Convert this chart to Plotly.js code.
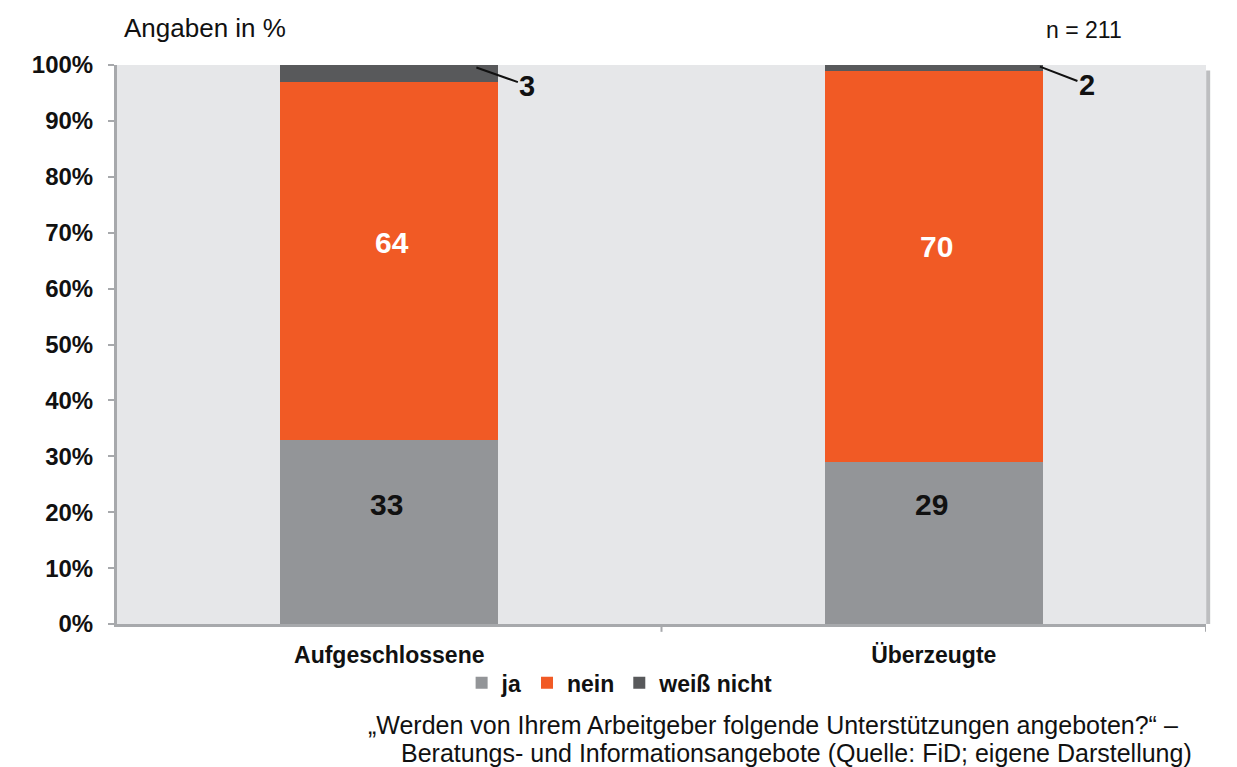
<!DOCTYPE html>
<html>
<head>
<meta charset="utf-8">
<script src="https://cdn.plot.ly/plotly-3.0.1.min.js"></script>
<style>
html,body{margin:0;padding:0;background:#fff;}
#chart{width:1237px;height:767px;}
</style>
</head>
<body>
<div id="chart"></div>
<script>
const categories = ["Aufgeschlossene", "Überzeugte"];
const seriesNames = ["ja", "nein", "weiß nicht"];
const ja = [33, 29];
const nein = [64, 70];
const weissNicht = [3, 2];
const yTickVals = [0, 10, 20, 30, 40, 50, 60, 70, 80, 90, 100];
const yTickText = yTickVals.map(v => v + "%");

const colors = {ja: "#939598", nein: "#F15A25", weiss: "#58595B"};
const FONT = "Liberation Sans, Arial, sans-serif";
const xIdx = categories.map((c, i) => i);

const traces = [
  {type: "bar", name: seriesNames[0], x: xIdx, y: ja, marker: {color: colors.ja},
   width: 0.4, hoverinfo: "skip", textposition: "none"},
  {type: "bar", name: seriesNames[1], x: xIdx, y: nein, marker: {color: colors.nein},
   width: 0.4, hoverinfo: "skip", textposition: "none"},
  {type: "bar", name: seriesNames[2], x: xIdx, y: weissNicht, marker: {color: colors.weiss},
   width: 0.4, hoverinfo: "skip", textposition: "none"}
];

const annotations = [
  {xref: "paper", yref: "paper", x: 0.0046, y: 1.066, xanchor: "left", yanchor: "middle",
   text: "Angaben in %", showarrow: false, font: {family: FONT, size: 26, color: "#111"}},
  {xref: "paper", yref: "paper", x: 0.925, y: 1.063, xanchor: "right", yanchor: "middle",
   text: "n = 211", showarrow: false, font: {family: FONT, size: 23, color: "#111"}}
];
// in-bar value labels (placed in the lower-middle part of each segment, as in the original)
xIdx.forEach((i) => {
  annotations.push({
    xref: "x", yref: "y", x: i - 0.005, y: Math.min(...ja) * 0.74,
    text: "<b>" + ja[i] + "</b>", showarrow: false, yanchor: "middle",
    font: {family: FONT, size: 30, color: "#111"}
  });
  annotations.push({
    xref: "x", yref: "y", x: i + 0.005, y: ja[i] + nein[i] * 0.55,
    text: "<b>" + nein[i] + "</b>", showarrow: false, yanchor: "middle",
    font: {family: FONT, size: 30, color: "#ffffff"}
  });
});
// leader-line labels for the small top segments
const leaderOffsets = [0.16, 0.195];
const leaderAx = [51, 47];
xIdx.forEach((i) => {
  const top = Math.min(ja[i] + nein[i] + weissNicht[i], 100);
  annotations.push({
    xref: "x", yref: "y",
    x: i + leaderOffsets[i], y: top - weissNicht[i] * 0.15,
    text: "<b>" + weissNicht[i] + "</b>",
    showarrow: true, arrowhead: 0, arrowwidth: 2, arrowcolor: "#111",
    ax: leaderAx[i], ay: 18, standoff: 0,
    font: {family: FONT, size: 29, color: "#111"}
  });
});
annotations.push(
  {xref: "paper", yref: "paper", x: 0.976, y: -0.181, xanchor: "right", yanchor: "middle",
   text: "„Werden von Ihrem Arbeitgeber folgende Unterstützungen angeboten?“ –",
   showarrow: false, font: {family: FONT, size: 25, color: "#111"}},
  {xref: "paper", yref: "paper", x: 0.989, y: -0.231, xanchor: "right", yanchor: "middle",
   text: "Beratungs- und Informationsangebote (Quelle: FiD; eigene Darstellung)",
   showarrow: false, font: {family: FONT, size: 25, color: "#111"}}
);

const layout = {
  width: 1237, height: 767,
  margin: {l: 117, r: 31, t: 65, b: 143, pad: 0},
  paper_bgcolor: "#ffffff",
  plot_bgcolor: "#E6E7E9",
  barmode: "stack",
  showlegend: true,
  legend: {
    orientation: "h", x: 0.462, xanchor: "center", y: -0.105, yanchor: "middle",
    font: {family: FONT, size: 23, color: "#111", weight: "bold"},
    itemwidth: 30, traceorder: "normal", bgcolor: "rgba(0,0,0,0)"
  },
  xaxis: {
    type: "linear", range: [-0.5, 1.5],
    tickvals: xIdx, ticktext: categories,
    showgrid: false, zeroline: false,
    showline: true, linecolor: "#A7A9AC", linewidth: 3,
    ticks: "", ticklabelstandoff: 8,
    tickfont: {family: FONT, size: 23, color: "#111", weight: "bold"},
    fixedrange: true
  },
  yaxis: {
    range: [0, 100],
    tickvals: yTickVals, ticktext: yTickText,
    showgrid: false, zeroline: false,
    showline: true, linecolor: "#A7A9AC", linewidth: 3,
    ticks: "outside", ticklen: 6, tickwidth: 2, tickcolor: "#A7A9AC",
    ticklabelstandoff: 10,
    tickfont: {family: FONT, size: 24, color: "#111", weight: "bold"},
    fixedrange: true
  },
  shapes: [
    {type: "line", xref: "x", yref: "paper", x0: 0.5, x1: 0.5, y0: 0, y1: -0.014,
     line: {color: "#A7A9AC", width: 2}},
    {type: "line", xref: "x", yref: "paper", x0: 1.5, x1: 1.5, y0: 0, y1: -0.014,
     line: {color: "#A7A9AC", width: 2}},
    {type: "line", xref: "paper", yref: "paper", x0: 1.002, x1: 1.002, y0: 0, y1: 0.99,
     line: {color: "#BDBEC0", width: 4}}
  ],
  annotations: annotations
};

Plotly.newPlot("chart", traces, layout, {displayModeBar: false, staticPlot: true});
</script>
</body>
</html>
